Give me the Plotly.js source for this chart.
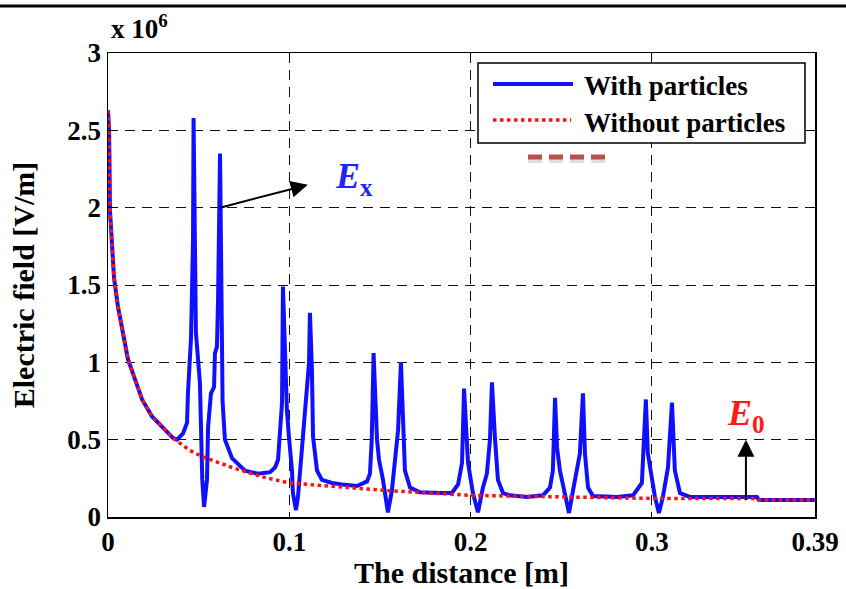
<!DOCTYPE html>
<html>
<head>
<meta charset="utf-8">
<script src="https://cdn.plot.ly/plotly-3.0.1.min.js"></script>
<style>html,body{margin:0;padding:0;background:#fff;}</style>
</head>
<body>
<div id="chart" style="width:846px;height:589px;"></div>
<script>
// distance [m]
var xWith = [0, 0.0006, 0.0011, 0.0022, 0.0033, 0.0055, 0.0077, 0.0110, 0.0149, 0.0188,
  0.0243, 0.0314, 0.0359,
  0.0381, 0.0414, 0.0436, 0.0441, 0.0458, 0.0463, 0.0469, 0.0472, 0.0480, 0.0485,
  0.0507, 0.0518, 0.0520, 0.0530, 0.0546, 0.0552, 0.0568, 0.0585, 0.0590, 0.0601,
  0.0607, 0.0618, 0.0629, 0.0632, 0.0645, 0.0684, 0.0756, 0.0827, 0.0894, 0.0921,
  0.0938, 0.0949, 0.0960, 0.0965, 0.0982, 0.0987, 0.0998, 0.1015, 0.1020, 0.1037,
  0.1048, 0.1059, 0.1076, 0.1098, 0.1109, 0.1114, 0.1125, 0.1131, 0.1153, 0.1180,
  0.1236, 0.1291, 0.1373, 0.1429, 0.1445, 0.1455, 0.1465, 0.1484, 0.1495, 0.1517,
  0.1544, 0.1566, 0.1583, 0.1600, 0.1616, 0.1627, 0.1638, 0.1666, 0.1721, 0.1831,
  0.1897, 0.1931, 0.1953, 0.1964, 0.1980, 0.1986, 0.2013, 0.2041, 0.2068, 0.2090,
  0.2107, 0.2118, 0.2135, 0.2151, 0.2179, 0.2217, 0.2311, 0.2399, 0.2438, 0.2454,
  0.2466, 0.2477, 0.2493, 0.2521, 0.2543, 0.2565, 0.2587, 0.2603, 0.2620, 0.2631,
  0.2648, 0.2675, 0.2808, 0.2896, 0.2945, 0.2967, 0.2978, 0.3001, 0.3017, 0.3039,
  0.3061, 0.3089, 0.3111, 0.3127, 0.3155, 0.3210, 0.3580, 0.3591, 0.39];
// electric field with particles [x 10^6 V/m]
var yWith = [2.63, 2.50, 1.98, 1.73, 1.55, 1.36, 1.23, 1.02, 0.89, 0.76,
  0.65, 0.56, 0.51,
  0.50, 0.54, 0.61, 0.80, 1.16, 1.40, 1.79, 2.58, 1.79, 1.19,
  0.87, 0.43, 0.24, 0.065, 0.24, 0.58, 0.80, 0.84, 1.06, 1.10,
  1.40, 2.35, 1.40, 0.75, 0.50, 0.38, 0.30, 0.28, 0.29, 0.32,
  0.37, 0.52, 0.74, 1.49, 0.95, 0.69, 0.52, 0.30, 0.155, 0.045,
  0.13, 0.30, 0.52, 0.87, 1.0, 1.32, 0.95, 0.52, 0.30, 0.24,
  0.22, 0.21, 0.20, 0.23, 0.28, 0.50, 1.06, 0.50, 0.37, 0.24,
  0.03, 0.17, 0.35, 0.56, 1.00, 0.56, 0.30, 0.19, 0.16, 0.155,
  0.155, 0.21, 0.35, 0.83, 0.50, 0.35, 0.155, 0.03, 0.19, 0.28,
  0.50, 0.87, 0.50, 0.24, 0.155, 0.14, 0.13, 0.14, 0.19, 0.30,
  0.77, 0.45, 0.30, 0.155, 0.026, 0.17, 0.30, 0.41, 0.80, 0.41,
  0.19, 0.135, 0.13, 0.14, 0.22, 0.76, 0.41, 0.24, 0.13, 0.026,
  0.13, 0.32, 0.74, 0.30, 0.155, 0.13, 0.13, 0.11, 0.11];
// electric field without particles [x 10^6 V/m]
var xWithout = [0, 0.0006, 0.0011, 0.0022, 0.0033, 0.0055, 0.0077, 0.0110, 0.0149, 0.0188,
  0.0243, 0.0314, 0.0359, 0.0452, 0.052, 0.0684, 0.085, 0.1, 0.13, 0.155, 0.2, 0.25,
  0.3, 0.358, 0.359, 0.39];
var yWithout = [2.63, 2.50, 1.98, 1.73, 1.55, 1.36, 1.23, 1.02, 0.89, 0.76,
  0.65, 0.56, 0.51, 0.43, 0.39, 0.32, 0.26, 0.22, 0.19, 0.17, 0.14, 0.13,
  0.12, 0.12, 0.11, 0.11];

var xTickVals = [0, 0.1, 0.2, 0.3, 0.39];
var xTickText = ['0', '0.1', '0.2', '0.3', '0.39'];
var yTickVals = [0, 0.5, 1, 1.5, 2, 2.5, 3];
var yTickText = ['0', '0.5', '1', '1.5', '2', '2.5', '3'];
var seriesNames = ['With particles', 'Without particles'];

var SERIF = 'Liberation Serif';
var BLUE = '#1010ff';
var RED = '#ff1010';

var traces = [
  {x: xWith, y: yWith, type: 'scatter', mode: 'lines', name: seriesNames[0],
   line: {color: BLUE, width: 4}, showlegend: false},
  {x: xWithout, y: yWithout, type: 'scatter', mode: 'lines', name: seriesNames[1],
   line: {color: RED, width: 3.5, dash: 'dot'}, showlegend: false}
];

var L = 108, R = 31, T = 53, B = 72, W = 846, H = 589;
var pw = W - L - R, ph = H - T - B;
function px2x(px) { return (px - L) / pw; }
function py2y(py) { return (H - B - py) / ph; }

var axisFont = {family: SERIF, size: 27, weight: 'bold', color: '#000'};
var titleFont = {family: SERIF, size: 30, weight: 'bold', color: '#000'};
var legFont = {family: SERIF, size: 27, weight: 'bold', color: '#000'};

var layout = {
  width: W, height: H,
  margin: {l: L, r: R, t: T, b: B},
  paper_bgcolor: '#fff', plot_bgcolor: '#fff',
  showlegend: false,
  xaxis: {
    range: [0, 0.39], tickvals: xTickVals, ticktext: xTickText,
    showline: true, linecolor: '#000', linewidth: 1.5, mirror: 'ticks',
    ticks: 'inside', ticklen: 5, tickcolor: '#000',
    showgrid: true, gridcolor: '#111', gridwidth: 1, griddash: '10px,7px',
    zeroline: false, tickfont: axisFont,
    title: {text: 'The distance [m]', font: titleFont, standoff: 13}
  },
  yaxis: {
    range: [0, 3], tickvals: yTickVals, ticktext: yTickText,
    showline: true, linecolor: '#000', linewidth: 1.5, mirror: 'ticks',
    ticks: 'inside', ticklen: 5, tickcolor: '#000',
    showgrid: true, gridcolor: '#111', gridwidth: 1, griddash: '10px,7px',
    zeroline: false, tickfont: axisFont,
    title: {text: 'Electric field [V/m]', font: titleFont, standoff: 24}
  },
  shapes: [
    {type: 'line', xref: 'paper', yref: 'paper', x0: px2x(0), x1: px2x(846), y0: py2y(6), y1: py2y(6),
     line: {color: '#000', width: 3}, layer: 'above'},
    {type: 'rect', xref: 'paper', yref: 'paper', x0: px2x(478), x1: px2x(805), y0: py2y(143), y1: py2y(63),
     line: {color: '#000', width: 1.5}, fillcolor: '#fff', layer: 'above'},
    {type: 'line', xref: 'paper', yref: 'paper', x0: px2x(493), x1: px2x(573), y0: py2y(84), y1: py2y(84),
     line: {color: BLUE, width: 4}, layer: 'above'},
    {type: 'line', xref: 'paper', yref: 'paper', x0: px2x(493), x1: px2x(571), y0: py2y(120), y1: py2y(120),
     line: {color: RED, width: 3.5, dash: 'dot'}, layer: 'above'},
    {type: 'line', xref: 'paper', yref: 'paper', x0: px2x(528), x1: px2x(608), y0: py2y(161), y1: py2y(161),
     line: {color: '#dddddd', width: 4, dash: '14px,7px'}, layer: 'above'},
    {type: 'line', xref: 'paper', yref: 'paper', x0: px2x(528), x1: px2x(608), y0: py2y(157), y1: py2y(157),
     line: {color: '#b9504c', width: 5, dash: '14px,7px'}, layer: 'above'}
  ],
  annotations: [
    {xref: 'paper', yref: 'paper', x: px2x(582), y: py2y(86), xanchor: 'left', yanchor: 'middle',
     text: seriesNames[0], showarrow: false, font: legFont},
    {xref: 'paper', yref: 'paper', x: px2x(582), y: py2y(123), xanchor: 'left', yanchor: 'middle',
     text: seriesNames[1], showarrow: false, font: legFont},
    {xref: 'paper', yref: 'paper', x: px2x(109), y: py2y(46), xanchor: 'left', yanchor: 'bottom',
     text: 'x 10<sup>6</sup>', showarrow: false, font: {family: SERIF, size: 27, weight: 'bold', color: '#000'}},
    // E_x label with arrow from the second peak
    {x: 0.0618, y: 2.0, ax: (333 - L) / 1813, ay: 2.19, axref: 'x', ayref: 'y',
     text: '<i>E</i><sub>x</sub>', xanchor: 'left', yanchor: 'middle',
     showarrow: true, arrowside: 'start', startarrowhead: 2, startarrowsize: 1.7, arrowwidth: 2,
     arrowcolor: '#000', standoff: 0, startstandoff: 26,
     font: {family: SERIF, size: 36, weight: 'bold', color: '#2222ff'}},
    // E_0 label with vertical arrow
    {x: 0.3519, y: 0.11, ax: 0.3519, ay: 0.50, axref: 'x', ayref: 'y',
     text: '<i>E</i><sub>0</sub>', xanchor: 'center', yanchor: 'bottom',
     showarrow: true, arrowside: 'start', startarrowhead: 2, startarrowsize: 1.7, arrowwidth: 2,
     arrowcolor: '#000', standoff: 0, startstandoff: 0,
     font: {family: SERIF, size: 36, weight: 'bold', color: '#ff1a1a'}}
  ]
};

Plotly.newPlot('chart', traces, layout, {displayModeBar: false, staticPlot: true});
</script>
</body>
</html>
